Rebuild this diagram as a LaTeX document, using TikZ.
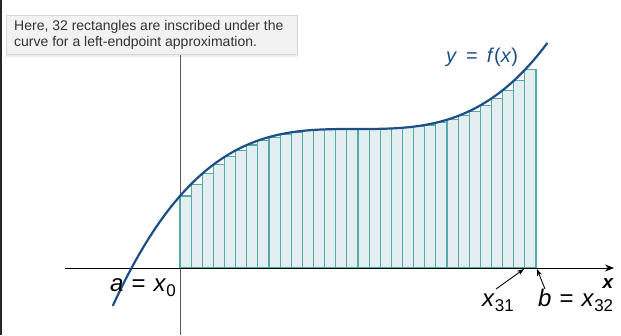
\documentclass[tikz,border=0pt]{standalone}
\usepackage{fontspec}
\setmainfont{Liberation Sans}
\usetikzlibrary{arrows.meta,shadows}
\definecolor{curveblue}{HTML}{1D4F86}
\definecolor{rectfill}{HTML}{E3EEF0}
\definecolor{rectline}{HTML}{55AAA9}
\definecolor{tipfill}{HTML}{F2F2F2}
\definecolor{tipline}{HTML}{D6D6D6}
\definecolor{tiptext}{HTML}{333333}
\definecolor{axisgray}{HTML}{5A5A5A}
\begin{document}
\begin{tikzpicture}[x=1pt,y=-1pt,
  rectbox/.style={fill=rectfill,draw=rectline,line width=1.1pt},
  curvestyle/.style={draw=curveblue,line width=2.2pt,line cap=round},
  axisline/.style={draw=black,line width=0.9pt},
  yaxisline/.style={draw=axisgray,line width=0.9pt},
  pointer/.style={draw=black,line width=0.9pt,-{Stealth[length=7pt,width=5pt]}},
  biglabel/.style={font=\fontsize{24}{26}\selectfont,inner sep=0pt},
  tipbox/.style={fill=tipfill,draw=tipline,line width=0.6pt,drop shadow={shadow xshift=0pt,shadow yshift=-3pt,opacity=0.15}},
]
\useasboundingbox (0,0) rectangle (621,335);
\fill[white] (0,0) rectangle (621,335);
\draw[black!85,line width=2pt] (1,0) -- (1,335);
% axes
\draw[yaxisline] (180,50) -- (180,335);
% rectangles
\foreach \i in {0,...,31}{
  \pgfmathsetmacro\xl{180+\i*11.125}
  \pgfmathsetmacro\xr{\xl+11.125}
  \pgfmathsetmacro\uu{(\xl-356)/176}
  \pgfmathsetmacro\yt{129-67*\uu*\uu*\uu}
  \draw[rectbox] (\xl,268) rectangle (\xr,\yt);
}
\draw[axisline,-{Stealth[length=9pt,width=7pt]}] (65,268) -- (614,268);
% curve
\draw[curvestyle] plot[domain=113:547,samples=120,smooth] (\x,{129-67*((\x-356)/176)*((\x-356)/176)*((\x-356)/176)});
% labels
\node[font=\fontsize{20}{22}\selectfont,text=curveblue,inner sep=0pt,anchor=base west] (yfx) at (446,62) {\textit{y}\hspace{9pt}=\hspace{9pt}\textit{f}(\textit{x})};
\node[biglabel,anchor=base west] (alab) at (110,291) {\textit{a}\hspace{8pt}=\hspace{8pt}\textit{x}\raisebox{-5pt}{\fontsize{17}{18}\selectfont 0}};
\node[biglabel,anchor=base west] (x31lab) at (482,306) {\textit{x}\raisebox{-5pt}{\fontsize{17}{18}\selectfont 31}};
\node[biglabel,anchor=base west] (blab) at (538,306) {\textit{b}\hspace{8pt}=\hspace{8pt}\textit{x}\raisebox{-5pt}{\fontsize{17}{18}\selectfont 32}};
\node[font=\fontsize{19}{20}\selectfont\bfseries\itshape,inner sep=0pt,anchor=base] (xlab) at (608,288) {x};
\coordinate (x31pt) at (524,269);
\coordinate (bpt) at (537,269);
\coordinate (x31tail) at (496,289);
\coordinate (btail) at (545,289);
\draw[pointer] (x31tail) -- (x31pt);
\draw[pointer] (btail) -- (bpt);
% tooltip
\draw[tipbox] (6,15) rectangle (297,54);
\node[font=\fontsize{14}{16.5}\selectfont,text=tiptext,align=left,anchor=north west,inner sep=0pt] (tip) at (14,20) {Here, 32 rectangles are inscribed under the\\curve for a left-endpoint approximation.};
\end{tikzpicture}
\end{document}
